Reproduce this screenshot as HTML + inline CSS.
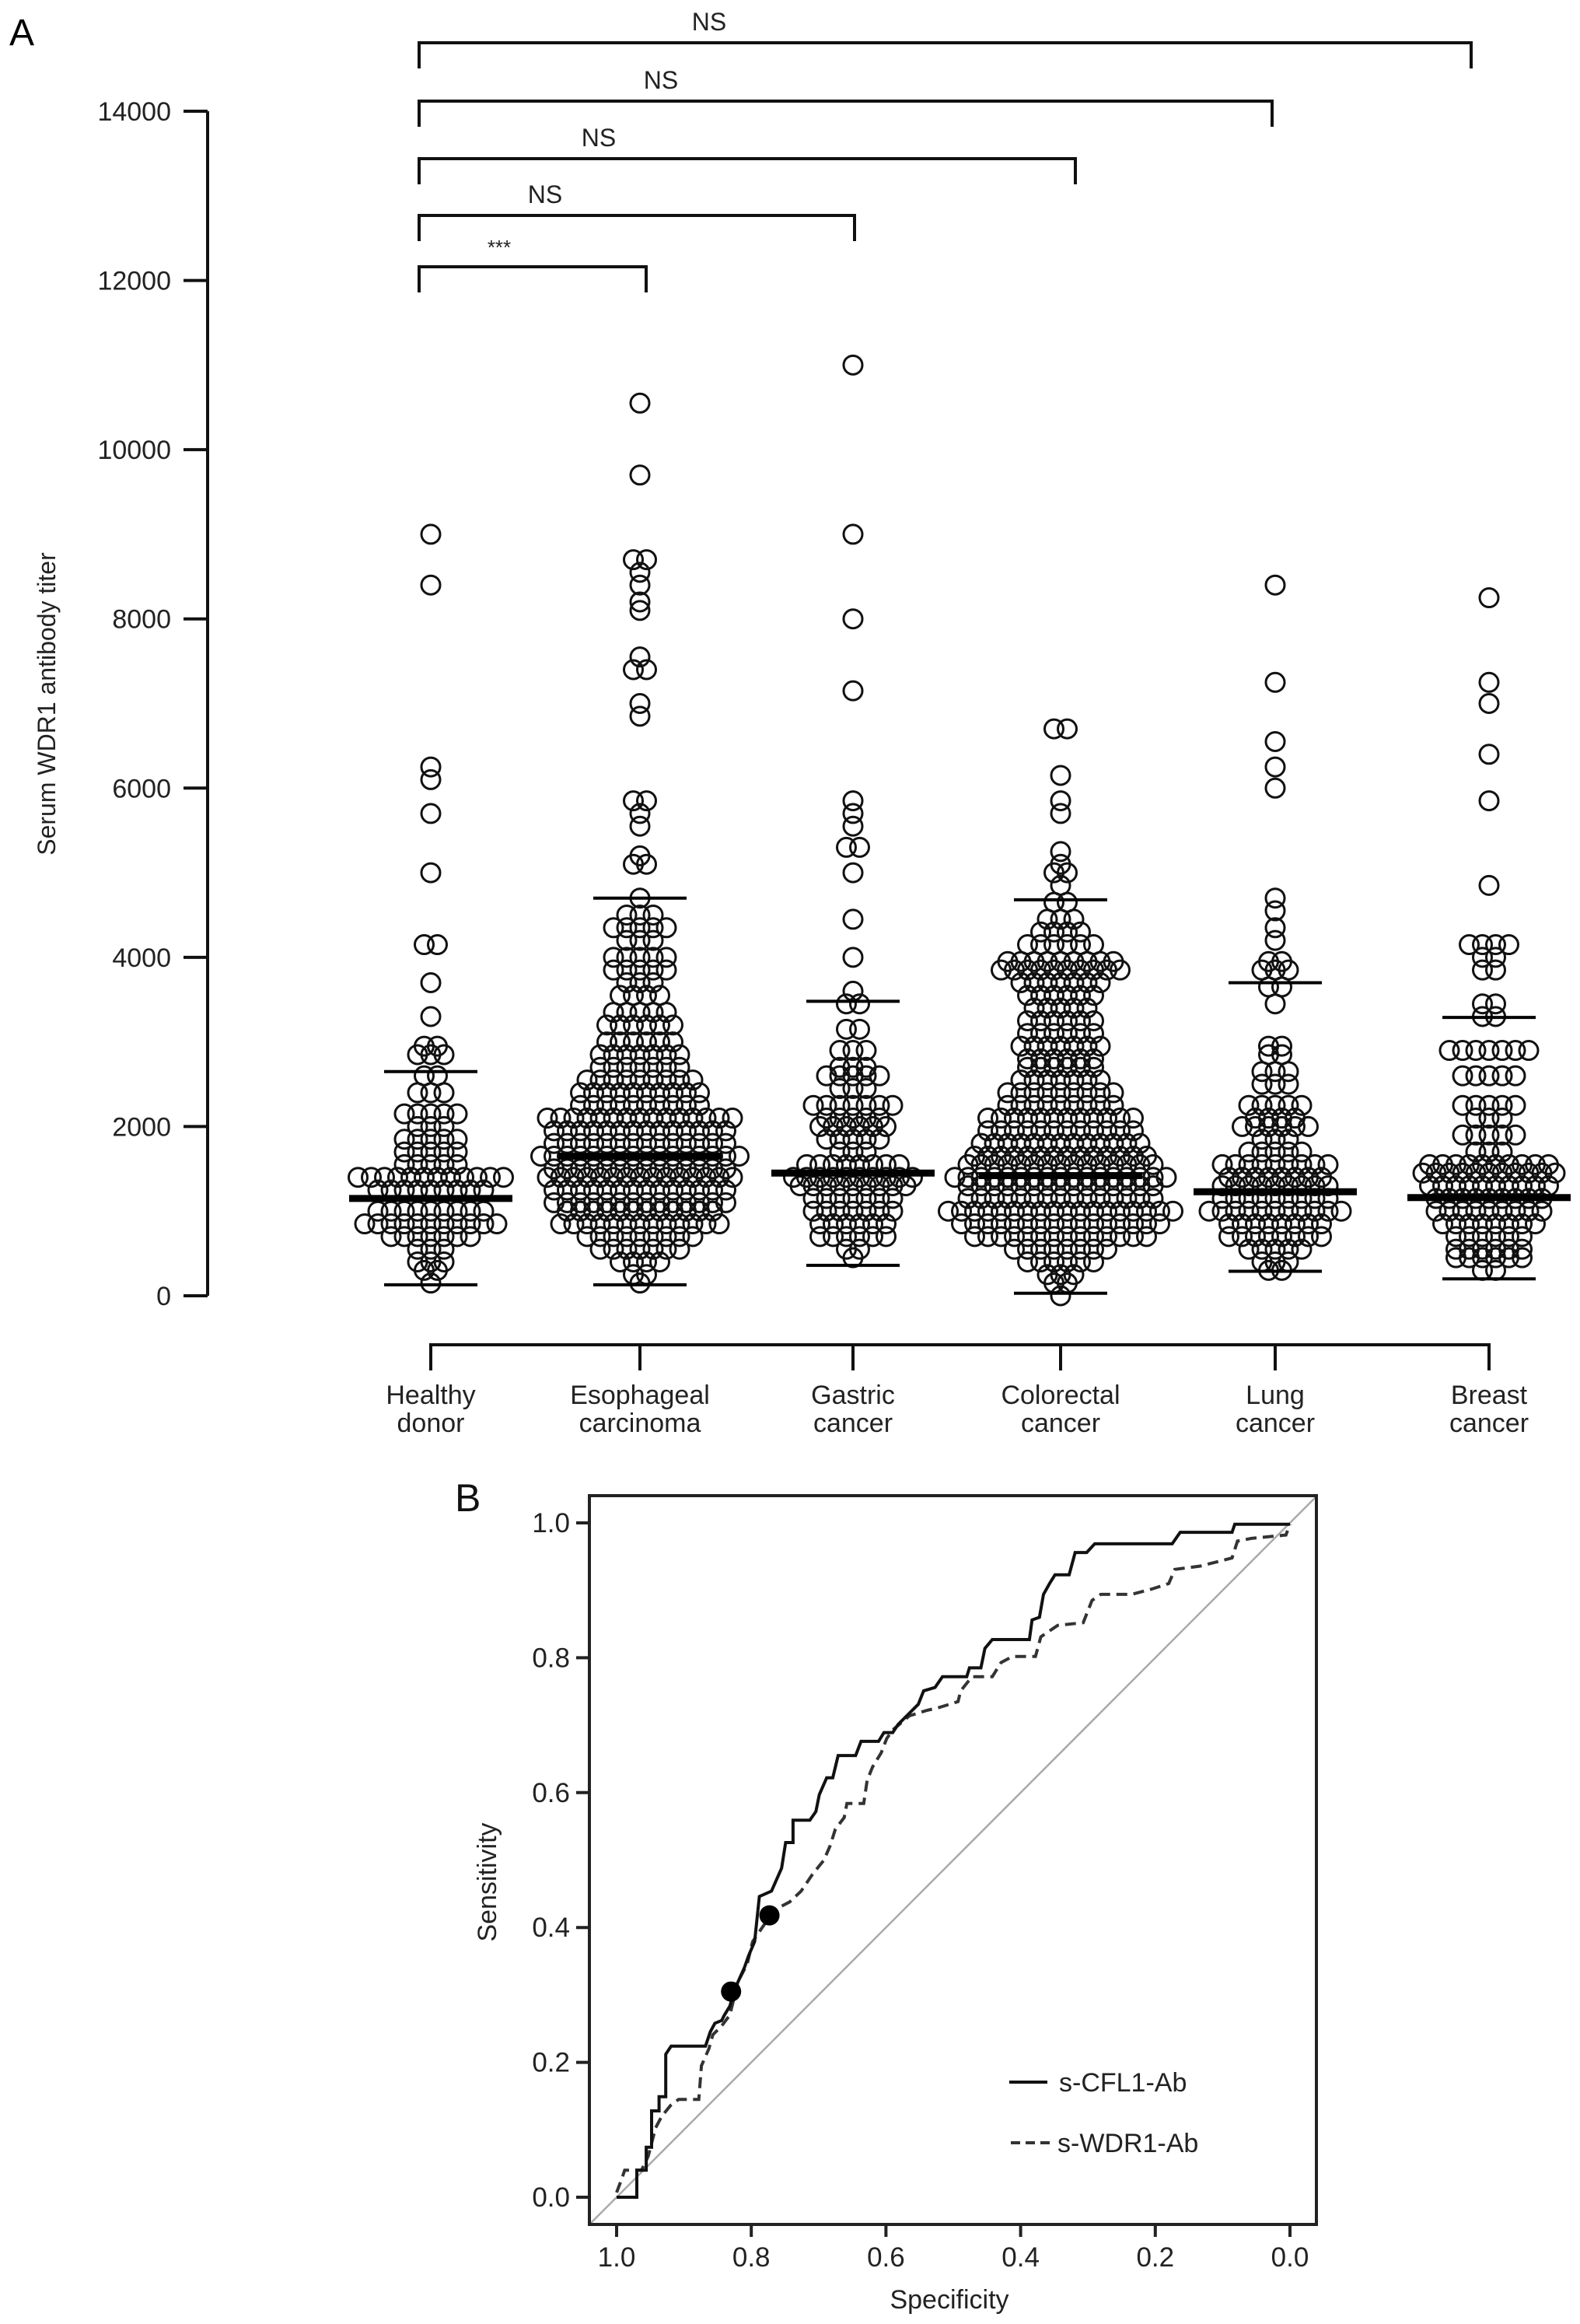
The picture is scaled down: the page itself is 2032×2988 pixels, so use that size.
<!DOCTYPE html>
<html><head><meta charset="utf-8"><style>
html,body{margin:0;padding:0;background:#fff;}
svg{display:block;font-family:"Liberation Sans",Arial,sans-serif;}
</style></head><body>
<svg id="fig" width="2032" height="2988" viewBox="0 0 2032 2988" xmlns="http://www.w3.org/2000/svg">
<g id="panelA"></g>
<g id="panelB"></g>
</svg>
<script>
// ---------- Panel A data ----------
const categories = ["Healthy|donor","Esophageal|carcinoma","Gastric|cancer","Colorectal|cancer","Lung|cancer","Breast|cancer"];
const yTicks = [0,2000,4000,6000,8000,10000,12000,14000];
// [value, count] pairs per group
const healthyValues = [[9000,1],[8400,1],[6250,1],[6100,1],[5700,1],[5000,1],[4150,2],[3700,1],[3300,1],[2950,2],[2850,3],[2600,2],[2400,3],[2150,5],[2000,3],[1850,5],[1700,5],[1550,5],[1400,12],[1250,9],[1000,9],[850,11],[700,7],[550,3],[400,3],[300,2],[150,1]];
const esophagealValues = [[10550,1],[9700,1],[8700,2],[8550,1],[8400,1],[8200,1],[8100,1],[7550,1],[7400,2],[7000,1],[6850,1],[5850,2],[5700,1],[5550,1],[5200,1],[5100,2],[4700,1],[4500,3],[4350,5],[4200,3],[4000,5],[3850,5],[3700,3],[3550,4],[3350,5],[3200,6],[3000,6],[2850,7],[2700,7],[2550,9],[2400,10],[2250,10],[2100,15],[1950,14],[1800,14],[1650,16],[1500,14],[1400,15],[1250,14],[1100,14],[1000,12],[850,13],[700,9],[550,7],[400,4],[250,2],[150,1]];
const gastricValues = [[11000,1],[9000,1],[8000,1],[7150,1],[5850,1],[5700,1],[5550,1],[5300,2],[5000,1],[4450,1],[4000,1],[3600,1],[3450,2],[3150,2],[2900,3],[2700,3],[2600,5],[2450,3],[2250,7],[2100,5],[2000,6],[1850,5],[1700,3],[1550,8],[1400,10],[1300,9],[1150,7],[1000,7],[850,6],[700,6],[550,2],[450,1]];
const colorectalValues = [[6700,2],[6150,1],[5850,1],[5700,1],[5250,1],[5100,1],[5000,2],[4850,1],[4650,2],[4450,3],[4300,4],[4150,6],[3950,9],[3850,10],[3700,7],[3550,6],[3400,5],[3250,6],[3100,6],[2950,7],[2800,6],[2700,6],[2550,7],[2400,9],[2250,9],[2100,12],[1950,12],[1800,13],[1650,14],[1550,15],[1400,17],[1300,15],[1150,15],[1000,18],[850,16],[700,14],[550,8],[400,6],[250,3],[150,2],[0,1]];
const lungValues = [[8400,1],[7250,1],[6550,1],[6250,1],[6000,1],[4700,1],[4550,1],[4350,1],[4200,1],[3950,2],[3850,3],[3650,2],[3450,1],[2950,2],[2850,2],[2650,3],[2500,3],[2250,5],[2100,4],[2000,6],[1850,3],[1700,5],[1550,9],[1400,8],[1300,9],[1150,9],[1000,11],[850,8],[700,8],[550,5],[400,3],[300,2]];
const breastValues = [[8250,1],[7250,1],[7000,1],[6400,1],[5850,1],[4850,1],[4150,4],[4000,2],[3850,2],[3450,2],[3300,2],[2900,7],[2600,5],[2250,5],[2100,3],[1900,5],[1700,3],[1550,10],[1450,11],[1300,10],[1150,9],[1000,9],[850,8],[700,6],[550,6],[450,6],[300,2]];
const groupValues = [healthyValues,esophagealValues,gastricValues,colorectalValues,lungValues,breastValues];
const meanValues = [1150,1650,1450,1420,1230,1160];
const sdUpper = [2650,4700,3480,4680,3700,3290];
const sdLower = [130,130,360,30,290,200];
const bracketTargets = [1,2,3,4,5];
const bracketLabels = ["***","NS","NS","NS","NS"];

// ---------- Panel B data ----------
const xTicksB = [1.0,0.8,0.6,0.4,0.2,0.0];
const yTicksB = [0.0,0.2,0.4,0.6,0.8,1.0];
const cflSpec = [1,0.97,0.97,0.956,0.956,0.948,0.948,0.937,0.937,0.927,0.927,0.919,0.868,0.861,0.854,0.844,0.84,0.832,0.823,0.81,0.804,0.795,0.788,0.77,0.755,0.749,0.738,0.738,0.713,0.704,0.699,0.688,0.679,0.671,0.645,0.637,0.611,0.603,0.59,0.582,0.565,0.552,0.544,0.527,0.516,0.48,0.476,0.459,0.453,0.442,0.387,0.383,0.372,0.366,0.357,0.349,0.328,0.319,0.302,0.29,0.175,0.163,0.086,0.082,0];
const cflSens = [0,0,0.04,0.04,0.074,0.074,0.128,0.128,0.149,0.149,0.212,0.224,0.224,0.245,0.258,0.262,0.27,0.283,0.312,0.341,0.358,0.379,0.446,0.454,0.488,0.526,0.526,0.559,0.559,0.572,0.597,0.622,0.622,0.655,0.655,0.676,0.676,0.689,0.689,0.701,0.718,0.731,0.751,0.756,0.772,0.772,0.785,0.785,0.814,0.827,0.827,0.856,0.86,0.894,0.91,0.923,0.923,0.956,0.956,0.969,0.969,0.986,0.986,0.998,0.998];
const wdrSpec = [1,0.992,0.988,0.963,0.953,0.942,0.933,0.92,0.908,0.878,0.874,0.863,0.857,0.844,0.832,0.819,0.806,0.798,0.781,0.76,0.743,0.726,0.709,0.692,0.683,0.675,0.662,0.658,0.633,0.628,0.62,0.607,0.599,0.59,0.565,0.539,0.522,0.493,0.489,0.472,0.442,0.429,0.412,0.378,0.37,0.345,0.307,0.294,0.281,0.235,0.205,0.18,0.171,0.133,0.086,0.078,0.057,0.006,0];
const wdrSens = [0.007,0.028,0.04,0.04,0.061,0.103,0.12,0.136,0.145,0.145,0.195,0.22,0.241,0.254,0.27,0.321,0.346,0.379,0.404,0.429,0.438,0.454,0.479,0.5,0.521,0.546,0.563,0.584,0.584,0.618,0.638,0.659,0.68,0.693,0.714,0.722,0.726,0.735,0.751,0.772,0.772,0.793,0.802,0.802,0.831,0.848,0.852,0.885,0.894,0.894,0.902,0.91,0.931,0.936,0.948,0.973,0.977,0.982,0.998];
const cutoffSpec = [0.773,0.830];
const cutoffSens = [0.418,0.305];

const NS = "http://www.w3.org/2000/svg";
function mk(tag, attrs, parent, text){
  const e = document.createElementNS(NS, tag);
  for (const k in attrs) e.setAttribute(k, attrs[k]);
  if (text !== undefined) e.textContent = text;
  parent.appendChild(e);
  return e;
}

// ---------- Panel A ----------
const A = document.getElementById('panelA');
const yA = v => 1666 - v * (1523 / 14000);
const catX = [554, 823, 1097, 1364, 1640, 1915];
const xA = i => catX[i];

let t = mk('text', {x:12, y:58, 'font-size':48}, A, 'A');



let ax = mk('line', {x1:267, y1:yA(14000), x2:267, y2:yA(0), stroke:'#111', 'stroke-width':4}, A);


yTicks.forEach(v => {
  const tk = mk('line', {x1:236, y1:yA(v), x2:267, y2:yA(v), stroke:'#111', 'stroke-width':4}, A);
  
  
  const lb = mk('text', {x:220, y:yA(v)+12, 'font-size':34, 'text-anchor':'end', fill:'#222'}, A, String(v));
  
  
});
let yt = mk('text', {x:0, y:0, 'font-size':32, 'text-anchor':'middle', fill:'#222', transform:'translate(71,905) rotate(-90)'}, A, 'Serum WDR1 antibody titer');



let xl = mk('line', {x1:xA(0), y1:1729, x2:xA(categories.length-1), y2:1729, stroke:'#111', 'stroke-width':4}, A);


categories.forEach((c, i) => {
  const tk = mk('line', {x1:xA(i), y1:1727, x2:xA(i), y2:1762, stroke:'#111', 'stroke-width':4}, A);
  
  
  const parts = c.split('|');
  const lb = mk('text', {x:xA(i), y:1805, 'font-size':34, 'text-anchor':'middle', fill:'#222'}, A);
  
  
  mk('tspan', {x:xA(i), dy:0}, lb, parts[0]);
  mk('tspan', {x:xA(i), dy:36}, lb, parts[1]);
});

// points
const spacing = 17;
groupValues.forEach((vals, gi) => {
  const g = mk('g', {}, A);
  
  
  vals.forEach(([v, n]) => {
    for (let k = 0; k < n; k++) {
      const off = (k - (n - 1) / 2) * spacing;
      const c = mk('circle', {cx:xA(gi)+off, cy:yA(v), r:12, fill:'none', stroke:'#111', 'stroke-width':3}, g);
      
      
    }
  });
  const m = mk('line', {x1:xA(gi)-105, x2:xA(gi)+105, y1:yA(meanValues[gi]), y2:yA(meanValues[gi]), stroke:'#000', 'stroke-width':9}, A);
  
  
  const su = mk('line', {x1:xA(gi)-60, x2:xA(gi)+60, y1:yA(sdUpper[gi]), y2:yA(sdUpper[gi]), stroke:'#000', 'stroke-width':4}, A);
  
  
  const sl = mk('line', {x1:xA(gi)-60, x2:xA(gi)+60, y1:yA(sdLower[gi]), y2:yA(sdLower[gi]), stroke:'#000', 'stroke-width':4}, A);
  
  
});

// brackets
const bracketY = [343, 277, 204, 130, 55];
const bracketRight = [831, 1099, 1383, 1636, 1892];
bracketTargets.forEach((ti, i) => {
  const y = bracketY[i], L = 539, R = bracketRight[i];
  const p = mk('path', {d:`M${L},${y+33} V${y} H${R} V${y+33}`, fill:'none', stroke:'#111', 'stroke-width':4}, A);
  
  
  const labX = [642, 701, 770, 850, 912][i];
  const lb = mk('text', {x:labX, y:y-16, 'font-size': i===0 ? 26 : 32, 'text-anchor':'middle', fill:'#222'}, A, bracketLabels[i]);
  
  
});

// ---------- Panel B ----------
const B = document.getElementById('panelB');
const xB = s => 1659 - s * (1659 - 793);
const yB = v => 2825 - v * (2825 - 1958);

let bl = mk('text', {x:585, y:1943, 'font-size':50, fill:'#111'}, B, 'B');



mk('clipPath', {id:'clipB'}, B);
mk('rect', {x:758, y:1923, width:935, height:937}, document.getElementById('clipB'));
let diag = mk('line', {x1:xB(1.04), y1:yB(-0.04), x2:xB(-0.04), y2:yB(1.04), stroke:'#aaa', 'stroke-width':2.5, 'clip-path':'url(#clipB)'}, B);



function pathFrom(xs, ys){ return xs.map((s,i)=>(i?'L':'M')+xB(s).toFixed(1)+','+yB(ys[i]).toFixed(1)).join(' '); }
let wd = mk('path', {d:pathFrom(wdrSpec, wdrSens), fill:'none', stroke:'#333', 'stroke-width':4, 'stroke-dasharray':'14 8'}, B);


let cf = mk('path', {d:pathFrom(cflSpec, cflSens), fill:'none', stroke:'#111', 'stroke-width':4}, B);


cutoffSpec.forEach((s, i) => {
  const d = mk('circle', {cx:xB(s), cy:yB(cutoffSens[i]), r:13, fill:'#000'}, B);
  
  
});

let box = mk('rect', {x:758, y:1923, width:935, height:937, fill:'none', stroke:'#222', 'stroke-width':4}, B);



yTicksB.forEach(v => {
  const tk = mk('line', {x1:741, x2:758, y1:yB(v), y2:yB(v), stroke:'#222', 'stroke-width':4}, B);
  
  
  const lb = mk('text', {x:733, y:yB(v)+12, 'font-size':35, 'text-anchor':'end', fill:'#222'}, B, v.toFixed(1));
  
  
});
xTicksB.forEach(v => {
  const tk = mk('line', {x1:xB(v), x2:xB(v), y1:2860, y2:2876, stroke:'#222', 'stroke-width':4}, B);
  
  
  const lb = mk('text', {x:xB(v), y:2914, 'font-size':35, 'text-anchor':'middle', fill:'#222'}, B, v.toFixed(1));
  
  
});
let sx = mk('text', {x:1221, y:2968, 'font-size':34, 'text-anchor':'middle', fill:'#222'}, B, 'Specificity');


let sy = mk('text', {x:0, y:0, 'font-size':34, 'text-anchor':'middle', fill:'#222', transform:'translate(638,2420) rotate(-90)'}, B, 'Sensitivity');



let lg1 = mk('line', {x1:1298, x2:1347, y1:2677, y2:2677, stroke:'#111', 'stroke-width':4}, B);


let lt1 = mk('text', {x:1362, y:2689, 'font-size':34, fill:'#222'}, B, 's-CFL1-Ab');


let lg2 = mk('line', {x1:1300, x2:1350, y1:2755, y2:2755, stroke:'#333', 'stroke-width':4, 'stroke-dasharray':'12 7'}, B);


let lt2 = mk('text', {x:1360, y:2767, 'font-size':34, fill:'#222'}, B, 's-WDR1-Ab');


</script>
</body></html>
